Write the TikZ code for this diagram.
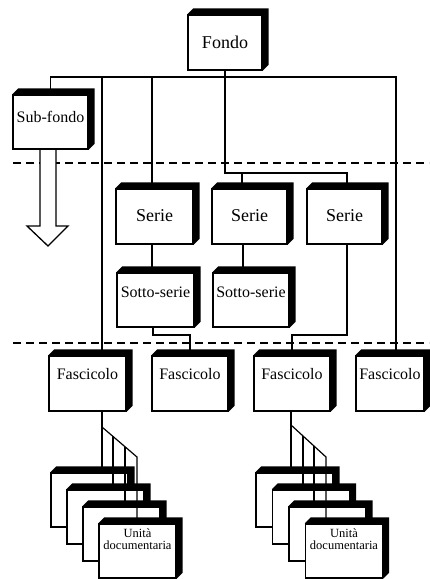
\documentclass[tikz,border=0pt]{standalone}
\usepackage{fontspec}
\setmainfont{Liberation Serif}
\usetikzlibrary{calc}
\newcommand\tdshade[1]{\fill[black] (#1.north west) -- ++(6,-6) -- ([shift={(6,-6)}]#1.north east) -- ([shift={(6,-6)}]#1.south east) -- (#1.south east) -- (#1.north east) -- cycle;}
\newcommand\lift[2]{\raisebox{#1}[0pt][0pt]{#2}}
\begin{document}
\begin{tikzpicture}[x=1pt,y=-1pt,
  conn/.style={line width=1.2pt},
  sep/.style={line width=1.6pt, dash pattern=on 8pt off 5pt},
  box/.style={draw, fill=white, line width=1.4pt, inner sep=0pt, minimum width=76pt, minimum height=55pt},
  big/.style={font=\fontsize{18}{20}\selectfont},
  mid/.style={font=\fontsize{16}{18}\selectfont},
  docbox/.style={box, minimum width=77pt, minimum height=54pt}]
\fill[white] (0,0) rectangle (429,579);
\useasboundingbox (0,0) rectangle (429,579);

% separators
\draw[sep] (13,163) -- (429,163);
\draw[sep] (13,343) -- (429,343);

% arrow below Sub-fondo
\draw[line width=1.3pt, fill=white] (40,150) -- (40,226) -- (27,226) -- (48,246) -- (68,226) -- (56,226) -- (56,150);

% boxes
\node[box, big, minimum width=74pt] (fondo) at (225,42.5) {\lift{-5.5pt}{Fondo}}; \tdshade{fondo}
\node[box, mid, minimum width=75pt, minimum height=54pt] (subfondo) at (50.5,122) {\lift{0pt}{Sub-fondo}}; \tdshade{subfondo}
\node[box, big, minimum width=77pt] (serieA) at (154.5,216.5) {\lift{-4.5pt}{Serie}}; \tdshade{serieA}
\node[box, big, minimum width=75pt] (serieB) at (249.5,216.5) {\lift{-4.5pt}{Serie}}; \tdshade{serieB}
\node[box, big, minimum width=75pt] (serieC) at (344.5,216.5) {\lift{-4.5pt}{Serie}}; \tdshade{serieC}
\node[box, mid, minimum width=77pt, minimum height=54pt] (sottoA) at (155.5,300) {\lift{3pt}{Sotto-serie}}; \tdshade{sottoA}
\node[box, mid, minimum width=76pt, minimum height=54pt] (sottoB) at (251,300) {\lift{3pt}{Sotto-serie}}; \tdshade{sottoB}
\node[box, mid, minimum width=77pt] (fascA) at (87.5,383.5) {\lift{4.5pt}{Fascicolo}}; \tdshade{fascA}
\node[box, mid] (fascB) at (190,383.5) {\lift{4.5pt}{Fascicolo}}; \tdshade{fascB}
\node[box, mid] (fascC) at (292,383.5) {\lift{4.5pt}{Fascicolo}}; \tdshade{fascC}
\node[box, mid, minimum width=68pt] (fascD) at (390,383.5) {\lift{4.5pt}{Fascicolo}}; \tdshade{fascD}

% document stacks
\newcommand\doctext{\lift{7pt}{\fontsize{12.5}{10.5}\selectfont\begin{tabular}{@{}c@{}}Unità\\documentaria\end{tabular}}}
\node[docbox] (docA1) at (89.5,500) {}; \tdshade{docA1}
\node[docbox] (docA2) at (105.5,517) {}; \tdshade{docA2}
\node[docbox] (docA3) at (121.5,534) {}; \tdshade{docA3}
\node[docbox] (docA4) at (137.5,551) {\doctext}; \tdshade{docA4}
\node[docbox] (docB1) at (294.5,500) {}; \tdshade{docB1}
\node[docbox] (docB2) at (311,517) {}; \tdshade{docB2}
\node[docbox] (docB3) at (327.5,534) {}; \tdshade{docB3}
\node[docbox] (docB4) at (344,551) {\doctext}; \tdshade{docB4}

% connectors
\coordinate (bar) at (396,77);
\coordinate (bA) at (102,77);
\coordinate (bS) at (152,77);
\coordinate (jSB) at (242,173);
\coordinate (jSC) at (347,173);
\coordinate (kB) at (243,0);
\coordinate (jA) at (153,335);
\coordinate (jC) at (347,335);
\draw[conn] (subfondo.north) |- (bar) -- (bar |- fascD.north);
\draw[conn] (bA) -- (bA |- fascA.north);
\draw[conn] (bS) -- (bS |- serieA.north);
\draw[conn] (fondo.south) |- (jSC) -- (jSC |- serieC.north);
\draw[conn] (jSB) -- (jSB |- serieB.north);
\draw[conn] (bS |- serieA.south) -- (bS |- sottoA.north);
\draw[conn] (kB |- serieB.south) -- (kB |- sottoB.north);
\draw[conn] (jA |- sottoA.south) -- (jA) -| (fascB.north);
\draw[conn] (jC |- serieC.south) -- (jC) -| (fascC.north);

% fans to documents
\coordinate (fanA) at (102,427);
\coordinate (fanAend) at (137,457);
\path (fanA) -- (fanAend) coordinate[pos=0.314] (fanA2) coordinate[pos=0.657] (fanA3);
\draw[conn] (fanA |- fascA.south) -- (fanA |- docA1.north);
\draw[conn] (fanA) -- (fanAend) -- (fanAend |- docA4.north);
\draw[conn] (fanA2) -- (fanA2 |- docA2.north);
\draw[conn] (fanA3) -- (fanA3 |- docA3.north);
\coordinate (fanB) at (291,425);
\coordinate (fanBend) at (326,457);
\path (fanB) -- (fanBend) coordinate[pos=0.343] (fanB2) coordinate[pos=0.657] (fanB3);
\draw[conn] (fanB |- fascC.south) -- (fanB |- docB1.north);
\draw[conn] (fanB) -- (fanBend) -- (fanBend |- docB4.north);
\draw[conn] (fanB2) -- (fanB2 |- docB2.north);
\draw[conn] (fanB3) -- (fanB3 |- docB3.north);
\end{tikzpicture}
\end{document}
